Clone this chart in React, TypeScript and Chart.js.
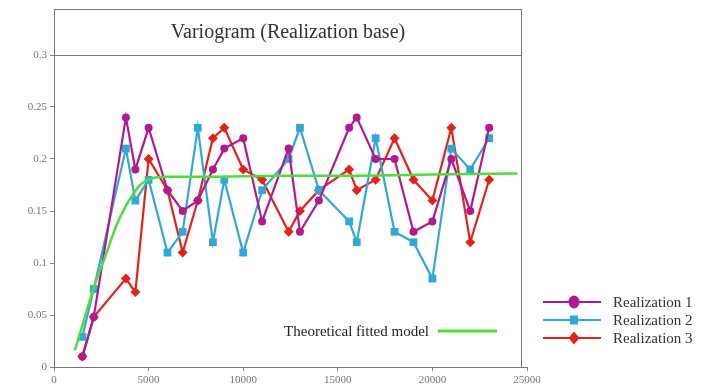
import React, { useEffect, useRef } from "react";
import { Chart, registerables } from "chart.js";

Chart.register(...registerables);

const lags = [1500, 2100, 3800, 4300, 5000, 6000, 6800, 7600, 8400, 9000, 10000, 11000, 12400, 13000, 14000, 15600, 16000, 17000, 18000, 19000, 20000, 21000, 22000, 23000];
const realization1 = [0.01, 0.048, 0.24, 0.19, 0.23, 0.17, 0.15, 0.16, 0.19, 0.21, 0.22, 0.14, 0.21, 0.13, 0.16, 0.23, 0.24, 0.2, 0.2, 0.13, 0.14, 0.2, 0.15, 0.23];
const realization2 = [0.029, 0.075, 0.21, 0.16, 0.18, 0.11, 0.13, 0.23, 0.12, 0.18, 0.11, 0.17, 0.2, 0.23, 0.17, 0.14, 0.12, 0.22, 0.13, 0.12, 0.085, 0.21, 0.19, 0.22];
const realization3 = [0.01, 0.048, 0.085, 0.072, 0.2, 0.17, 0.11, 0.16, 0.22, 0.23, 0.19, 0.18, 0.13, 0.15, 0.17, 0.19, 0.17, 0.18, 0.22, 0.18, 0.16, 0.23, 0.12, 0.18];
const modelLags = [1100, 1500, 2100, 2700, 3300, 3800, 4100, 4550, 5100, 5800, 8000, 12000, 16000, 20000, 24500];
const modelValues = [0.016, 0.04, 0.076, 0.106, 0.136, 0.155, 0.164, 0.175, 0.181, 0.183, 0.183, 0.184, 0.184, 0.185, 0.186];
const xTicks = [0, 5000, 10000, 15000, 20000, 25000];
const yTicks = [0, 0.05, 0.1, 0.15, 0.2, 0.25, 0.3];

const titleText = "Variogram (Realization base)";
const modelLabel = "Theoretical fitted model";
const seriesLabels = ["Realization 1", "Realization 2", "Realization 3"];

const C1 = "#b4188f";
const C2 = "#30a9d9";
const C3 = "#e2231c";
const CG = "#4ede3a";
const SERIF = "'Liberation Serif', 'DejaVu Serif', serif";

function pts(xs: number[], ys: number[]) {
  return xs.map((x, i) => ({ x, y: ys[i] }));
}

const framePlugin = {
  id: "frame",
  afterDraw(chart: any) {
    const ctx = chart.ctx;
    const area = chart.chartArea;
    const xs = chart.scales.x;
    const frameRight = Math.round(xs.getPixelForValue(24700)) + 0.5;
    const left = Math.round(area.left) + 0.5;
    const top = Math.round(area.top) + 0.5;
    const bottom = Math.round(area.bottom) + 0.5;
    ctx.save();
    ctx.strokeStyle = "#777";
    ctx.lineWidth = 1;
    ctx.beginPath();
    ctx.moveTo(left, top);
    ctx.lineTo(left, 9.5);
    ctx.lineTo(frameRight, 9.5);
    ctx.lineTo(frameRight, bottom);
    ctx.moveTo(left, top);
    ctx.lineTo(frameRight, top);
    ctx.stroke();
    ctx.fillStyle = "#333";
    ctx.font = "20px " + SERIF;
    ctx.textAlign = "center";
    ctx.textBaseline = "middle";
    ctx.fillText(titleText, (left + frameRight) / 2, 33);
    ctx.font = "15px " + SERIF;
    ctx.textAlign = "right";
    ctx.fillStyle = "#222";
    ctx.fillText(modelLabel, 429, 332);
    ctx.strokeStyle = CG;
    ctx.lineWidth = 3;
    ctx.beginPath();
    ctx.moveTo(438, 331);
    ctx.lineTo(497, 331);
    ctx.stroke();
    const cols = [C1, C2, C3];
    const ys = [302, 320, 338];
    const styles = ["circle", "rect", "rectRot"];
    for (let i = 0; i < 3; i++) {
      ctx.strokeStyle = cols[i];
      ctx.lineWidth = 2;
      ctx.beginPath();
      ctx.moveTo(543, ys[i]);
      ctx.lineTo(601, ys[i]);
      ctx.stroke();
      ctx.fillStyle = cols[i];
      ctx.beginPath();
      if (styles[i] === "circle") {
        ctx.ellipse(574, ys[i], 5.5, 6.5, 0, 0, Math.PI * 2);
      } else if (styles[i] === "rect") {
        ctx.rect(570, ys[i] - 4.5, 8, 9);
      } else {
        ctx.moveTo(574, ys[i] - 6.5);
        ctx.lineTo(579.5, ys[i]);
        ctx.lineTo(574, ys[i] + 6.5);
        ctx.lineTo(568.5, ys[i]);
        ctx.closePath();
      }
      ctx.fill();
      ctx.fillStyle = "#333";
      ctx.font = "15px " + SERIF;
      ctx.textAlign = "left";
      ctx.fillText(seriesLabels[i], 613, ys[i] + 1);
    }
    ctx.restore();
  },
};

export default function App() {
  const ref = useRef<HTMLCanvasElement | null>(null);
  useEffect(() => {
    if (!ref.current) return;
    const chart = new Chart(ref.current, {
      type: "line",
      data: {
        datasets: [
          {
            label: "model",
            data: pts(modelLags, modelValues),
            borderColor: CG,
            borderWidth: 2.5,
            pointRadius: 0,
            cubicInterpolationMode: "monotone",
            order: 0,
          },
          {
            label: seriesLabels[0],
            data: pts(lags, realization1),
            borderColor: C1,
            backgroundColor: C1,
            borderWidth: 2.2,
            pointStyle: "circle",
            pointRadius: 4,
            pointBorderWidth: 0,
            order: 1,
          },
          {
            label: seriesLabels[1],
            data: pts(lags, realization2),
            borderColor: C2,
            backgroundColor: C2,
            borderWidth: 2.2,
            pointStyle: "rect",
            pointRadius: 5.5,
            pointBorderWidth: 0,
            order: 2,
          },
          {
            label: seriesLabels[2],
            data: pts(lags, realization3),
            borderColor: C3,
            backgroundColor: C3,
            borderWidth: 2.2,
            pointStyle: "rectRot",
            pointRadius: 5,
            pointBorderWidth: 0,
            order: 3,
          },
        ],
      },
      options: {
        responsive: false,
        animation: false,
        layout: { padding: { top: 55, right: 194, left: 0, bottom: 0 } },
        plugins: { legend: { display: false }, title: { display: false }, tooltip: { enabled: false } },
        scales: {
          x: {
            type: "linear",
            min: 0,
            max: 25000,
            afterFit: (s: any) => { s.height = 25; },
            afterBuildTicks: (s: any) => { s.ticks = xTicks.map((v) => ({ value: v })); },
            ticks: {
              color: "#777",
              font: { family: SERIF, size: 11 },
              padding: 3,
              maxRotation: 0,
              callback: (v: any) => String(v),
            },
            grid: { drawOnChartArea: false, tickLength: 4, color: "#888" },
            border: { color: "#777" },
          },
          y: {
            type: "linear",
            min: 0,
            max: 0.3,
            afterFit: (s: any) => { s.width = 54; },
            afterBuildTicks: (s: any) => { s.ticks = yTicks.map((v) => ({ value: v })); },
            ticks: {
              color: "#777",
              font: { family: SERIF, size: 11 },
              padding: 3,
              callback: (v: any) => String(Number(Number(v).toFixed(2))),
            },
            grid: { drawOnChartArea: false, tickLength: 4, color: "#888" },
            border: { color: "#777" },
          },
        },
      },
      plugins: [framePlugin],
    } as any);
    return () => chart.destroy();
  }, []);
  return (
    <div style={{ position: "fixed", left: 0, top: 0, width: 721, height: 392, background: "#fff" }}>
      <canvas ref={ref} width={721} height={392} style={{ display: "block" }} />
    </div>
  );
}
